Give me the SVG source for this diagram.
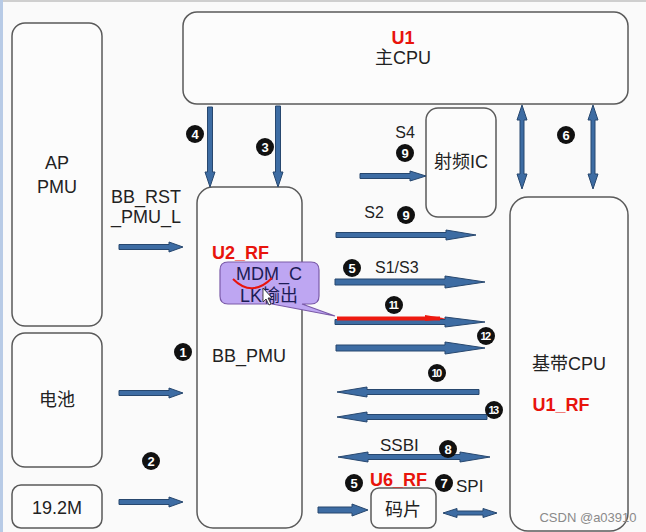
<svg xmlns="http://www.w3.org/2000/svg" width="646" height="532" viewBox="0 0 646 532">
<defs>
<style>
.box{fill:#fcfcfc;stroke:#5a5a5a;stroke-width:1.5}
.t{font-family:"Liberation Sans","Noto Sans CJK SC",sans-serif;font-size:18px;fill:#222;text-anchor:middle}
.s{font-family:"Liberation Sans","Noto Sans CJK SC",sans-serif;font-size:16px;fill:#222}
.r{font-family:"Liberation Sans",sans-serif;font-size:18px;font-weight:bold;fill:#e8140c}
.arr{fill:#3d6ca3;stroke:#27476e;stroke-width:1;stroke-linejoin:round}
.nc{fill:#111}
.nt{font-family:"Liberation Sans",sans-serif;font-size:13px;font-weight:bold;fill:#fff;text-anchor:middle}
.nt2{font-family:"Liberation Sans",sans-serif;font-size:11px;font-weight:bold;fill:#fff;text-anchor:middle;letter-spacing:-1.5px}
</style>
</defs>
<rect x="0" y="0" width="646" height="532" fill="#fafafa"/>
<rect x="0" y="0" width="646" height="2" fill="#cfcfcf"/>
<rect x="0" y="0" width="3" height="532" fill="#b8cbe6"/>

<g id="ap_pmu"><rect class="box" x="12" y="23" width="90" height="303" rx="13"/><text class="t" x="57" y="169">AP</text><text class="t" x="57" y="193">PMU</text></g>
<g id="battery"><rect class="box" x="12" y="333" width="90" height="134" rx="13"/><text class="t" x="57" y="406">电池</text></g>
<g id="xtal"><rect class="box" x="12" y="485" width="90" height="43" rx="9"/><text class="t" x="57" y="514">19.2M</text></g>
<g id="main_cpu"><rect class="box" x="183" y="12" width="445" height="92" rx="14"/><text class="r" x="403" y="44" text-anchor="middle">U1</text><text class="t" x="403" y="64">主CPU</text></g>
<g id="bb_pmu"><rect class="box" x="197" y="187" width="105" height="341" rx="16"/><text class="r" x="212" y="259">U2_RF</text><text class="t" x="249" y="362">BB_PMU</text></g>
<g id="rf_ic"><rect class="box" x="426" y="108" width="70" height="109" rx="12"/><text class="t" x="461" y="168">射频IC</text></g>
<g id="bb_cpu"><rect class="box" x="510" y="197" width="118" height="334" rx="18"/><text class="t" x="569" y="370">基带CPU</text><text class="r" x="561" y="411" text-anchor="middle">U1_RF</text></g>
<g id="chip"><rect class="box" x="371" y="488" width="65" height="40" rx="8"/><text class="t" x="403" y="516">码片</text></g>

<g id="connectors">
<path class="arr" d="M119,244.5 H169 V242 L183,247 L169,252 V249.5 H119 Z"/>
<path class="arr" d="M119,390.5 H169 V388 L183,393 L169,398 V395.5 H119 Z"/>
<path class="arr" d="M119,499.5 H169 V497 L183,502 L169,507 V504.5 H119 Z"/>
<path class="arr" d="M207.5,107 V172 H205 L210,187 L215,172 H212.5 V107 Z"/>
<path class="arr" d="M275.5,106 V172 H273 L278,187 L283,172 H280.5 V106 Z"/>
<path class="arr" d="M360,173.5 H410 V171 L426,176 L410,181 V178.5 H360 Z"/>
<path class="arr" d="M522,105 L527,120 H524 V174 H527 L522,189 L517,174 H520 V120 H517 Z"/>
<path class="arr" d="M593,105 L598,120 H595 V174 H598 L593,189 L588,174 H591 V120 H588 Z"/>
<path class="arr" d="M336,232.5 H446 V230 L476,235 L446,240 V237.5 H336 Z"/>
<path class="arr" d="M335,279 H445 V276 L485,282 L445,288 V285 H335 Z"/>
<path class="arr" d="M335,319.5 H445 V317 L485,322 L445,327 V324.5 H335 Z"/>
<path d="M337,318.5 H440" stroke="#ee1a10" stroke-width="4"/>
<path d="M425,315 L446,318.5 L425,321 Z" fill="#ee1a10"/>
<path class="arr" d="M336,345 H445 V342 L485,348 L445,354 V351 H336 Z"/>
<path class="arr" d="M479,389.5 H367 V387 L337,392 L367,397 V394.5 H479 Z"/>
<path class="arr" d="M487,414.5 H367 V412 L337,417 L367,422 V419.5 H487 Z"/>
<path class="arr" d="M338,457 L368,452 V454.5 H460 V452 L490,457 L460,462 V459.5 H368 V462 Z"/>
<path class="arr" d="M318,507 H352 V504 L368,510 L352,516 V513 H318 Z"/>
<path class="arr" d="M443,513 L457,508.5 V511 H483 V508.5 L497,513 L483,517.5 V515 H457 V517.5 Z"/>
</g>

<g id="labels">
<text class="t" x="146" y="203">BB_RST</text>
<text class="t" x="146" y="223">_PMU_L</text>
<text class="s" x="405" y="138" text-anchor="middle">S4</text>
<text class="s" x="374" y="218" text-anchor="middle">S2</text>
<text class="s" x="375" y="273">S1/S3</text>
<text class="s" x="380" y="451" style="font-size:17px">SSBI</text>
<text class="r" x="370" y="486">U6_RF</text>
<text class="s" x="456" y="492" style="font-size:17px">SPI</text>
</g>

<g id="numbers">
<circle class="nc" cx="195" cy="134" r="9"/><text class="nt" x="195" y="139">4</text>
<circle class="nc" cx="265" cy="147" r="9"/><text class="nt" x="265" y="152">3</text>
<circle class="nc" cx="405" cy="153" r="9"/><text class="nt" x="405" y="158">9</text>
<circle class="nc" cx="406" cy="215" r="9"/><text class="nt" x="406" y="220">9</text>
<circle class="nc" cx="566" cy="135" r="9"/><text class="nt" x="566" y="140">6</text>
<circle class="nc" cx="352" cy="268" r="9"/><text class="nt" x="352" y="273">5</text>
<circle class="nc" cx="394" cy="305" r="9"/><text class="nt2" x="393" y="309">11</text>
<circle class="nc" cx="486" cy="336" r="9"/><text class="nt2" x="485" y="340">12</text>
<circle class="nc" cx="437" cy="373" r="9"/><text class="nt2" x="436" y="377">10</text>
<circle class="nc" cx="494" cy="410" r="9"/><text class="nt2" x="493" y="414">13</text>
<circle class="nc" cx="448" cy="449" r="9"/><text class="nt" x="448" y="454">8</text>
<circle class="nc" cx="354" cy="483" r="9"/><text class="nt" x="354" y="488">5</text>
<circle class="nc" cx="444" cy="483" r="9"/><text class="nt" x="444" y="488">7</text>
<circle class="nc" cx="183" cy="352" r="9"/><text class="nt" x="183" y="357">1</text>
<circle class="nc" cx="151" cy="461" r="9"/><text class="nt" x="151" y="466">2</text>
</g>

<g id="callout">
<path d="M228,262 H311 Q319,262 319,270 V296 Q319,304 311,304 H302 L335,316 L272,304 H228 Q220,304 220,296 V270 Q220,262 228,262 Z" fill="#bea6f2" stroke="#7a5aa8" stroke-width="1.2"/>
<text class="t" x="269" y="280" style="fill:#1c1c55">MDM_C</text>
<text class="t" x="269" y="302" style="fill:#1c1c55">LK输出</text>
<path d="M233,279 Q252,298 272,278" fill="none" stroke="#e8140c" stroke-width="2"/>
<path d="M263,288 V302 L266,299 L269,305 L271,304 L268,298 L272,298 Z" fill="#fff" stroke="#222" stroke-width="0.8"/>
</g>

<text x="588" y="522" font-family="Liberation Sans, sans-serif" font-size="13" fill="#8a8a8a" text-anchor="middle">CSDN @a03910</text>
</svg>
